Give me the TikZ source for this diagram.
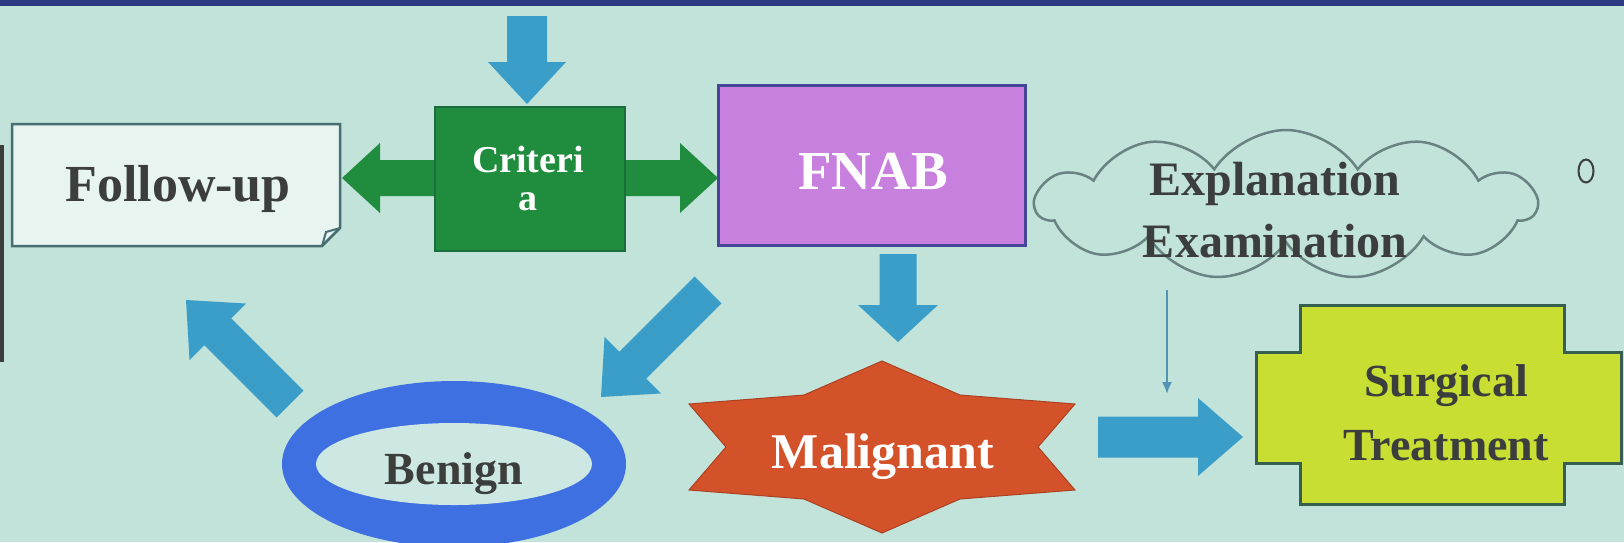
\documentclass[tikz,border=0pt]{standalone}
\usepackage{fontspec}
\setmainfont{Liberation Serif}
\usetikzlibrary{calc,shapes.symbols,shapes.geometric,arrows.meta}
\definecolor{bg}{RGB}{194,227,218}
\definecolor{topbar}{RGB}{45,60,130}
\definecolor{arrowblue}{RGB}{58,158,200}
\definecolor{critgreen}{RGB}{32,140,62}
\definecolor{critborder}{RGB}{25,110,60}
\definecolor{fnabfill}{RGB}{200,128,222}
\definecolor{fnabborder}{RGB}{70,70,150}
\definecolor{followfill}{RGB}{232,244,240}
\definecolor{followborder}{RGB}{70,110,115}
\definecolor{ringblue}{RGB}{62,112,226}
\definecolor{innerfill}{RGB}{205,232,226}
\definecolor{maligfill}{RGB}{212,82,42}
\definecolor{surgfill}{RGB}{200,222,50}
\definecolor{surgborder}{RGB}{55,95,80}
\definecolor{textdark}{RGB}{60,62,62}
\definecolor{cloudline}{RGB}{105,130,130}
\definecolor{thinblue}{RGB}{80,150,180}
\newcommand\blockarr[6]{%
  \coordinate (bh) at ($(#2)!#5!(#1)$);
  \fill[#6] ($(#1)!#3!90:(#2)$) -- ($(bh)!#3!-90:(#1)$) -- ($(bh)!#4!-90:(#1)$) -- (#2)
    -- ($(bh)!#4!90:(#1)$) -- ($(bh)!#3!90:(#1)$) -- ($(#1)!#3!-90:(#2)$) -- cycle;}
\newcommand\dblarr[6]{%
  \coordinate (bha) at ($(#1)!#5!(#2)$);
  \coordinate (bhb) at ($(#2)!#5!(#1)$);
  \fill[#6] (#1) -- ($(bha)!#4!90:(#2)$) -- ($(bha)!#3!90:(#2)$) -- ($(bhb)!#3!-90:(#1)$)
    -- ($(bhb)!#4!-90:(#1)$) -- (#2) -- ($(bhb)!#4!90:(#1)$) -- ($(bhb)!#3!90:(#1)$)
    -- ($(bha)!#3!-90:(#2)$) -- ($(bha)!#4!-90:(#2)$) -- cycle;}
\tikzset{
  darktxt/.style={text=textdark, font=\fontsize{#1}{#1}\selectfont\bfseries, inner sep=0pt, align=center},
  whitetxt/.style={text=white, font=\fontsize{#1}{#1}\selectfont\bfseries, inner sep=0pt, align=center},
  bluearrow/.style={arrowblue},
  greenarrow/.style={critgreen},
}
\begin{document}
\begin{tikzpicture}[x=1pt,y=-1pt]
\useasboundingbox (0,0) rectangle (1624,542);
\fill[bg] (0,0) rectangle (1624,542);
\fill[topbar] (0,0) rectangle (1624,6);
\fill[textdark] (0,145) rectangle (4,362);

% coordinates for arrow ends
\coordinate (topstart) at (527,16);
\coordinate (topend) at (527,104);
\coordinate (gl) at (342,178);
\coordinate (gr) at (718,178);
\coordinate (fdown1) at (898,254);
\coordinate (fdown2) at (898,342);
\coordinate (diag1) at (708,290);
\coordinate (diag2) at (601,397);
\coordinate (up1) at (290,404);
\coordinate (up2) at (186,300);
\coordinate (rt1) at (1098,437);
\coordinate (rt2) at (1243,437);
\coordinate (thin1) at (1167,290);
\coordinate (thin2) at (1167,394);

% green double arrow (behind criteria)
\dblarr{gl}{gr}{18pt}{35pt}{38pt}{greenarrow}

% Follow-up box with folded corner
\filldraw[fill=followfill, draw=followborder, line width=2.5pt]
  (12,124) -- (340,124) -- (340,228) -- (322,246) -- (12,246) -- cycle;
\draw[followborder, line width=2pt] (322,246) -- (326,232) -- (340,228);
\node[darktxt=52] (fu) at (178,189) {Follow-up};

% Criteria box
\filldraw[fill=critgreen, draw=critborder, line width=2pt] (435,107) rectangle (625,251);
\node[whitetxt=38] (cr) at (528,178) {Criteri\\[0pt]a};

% FNAB
\filldraw[fill=fnabfill, draw=fnabborder, line width=3pt] (718,85) rectangle (1025,245);
\node[whitetxt=55] (fnab) at (873,171) {FNAB};

% cloud
\node[cloud, cloud puffs=11, cloud puff arc=115, cloud ignores aspect, minimum width=500pt,
      minimum height=150pt, draw=cloudline, line width=2.5pt, fill=bg] (cl) at (1286,205) {};
\node[darktxt=48] (clt) at (1275,210) {Explanation\\[14pt]Examination};
\node[ellipse, draw=textdark, line width=2pt, minimum width=15pt, minimum height=23pt, inner sep=0pt] (dot) at (1586,171) {};

% blue arrows
\blockarr{topstart}{topend}{20pt}{39pt}{42pt}{bluearrow}
\blockarr{fdown1}{fdown2}{18.5pt}{40pt}{37pt}{bluearrow}
\blockarr{diag1}{diag2}{19pt}{40pt}{45pt}{bluearrow}
\blockarr{up1}{up2}{19pt}{40pt}{45pt}{bluearrow}
\blockarr{rt1}{rt2}{20.5pt}{39pt}{45pt}{bluearrow}
\draw[thinblue, line width=2pt, -{Latex[length=12pt,width=10pt]}] (thin1) -- (thin2);

% Benign ring
\fill[ringblue] (454,464) ellipse [x radius=172pt, y radius=83pt];
\fill[innerfill] (454,464) ellipse [x radius=138pt, y radius=41pt];
\node[darktxt=46] (ben) at (454,474) {Benign};

% Malignant star
\filldraw[fill=maligfill, draw=maligfill!80!black, line width=1pt]
  (1038,447) -- (1075,404) -- (960,395) -- (882,361) -- (804,395) -- (689,404)
  -- (726,447) -- (689,490) -- (804,499) -- (882,533) -- (960,499) -- (1075,490) -- cycle;
\node[whitetxt=50] (mal) at (883,457) {Malignant};

% Surgical treatment
\filldraw[fill=surgfill, draw=surgborder, line width=3pt]
  (1300,305) -- (1564,305) -- (1564,352) -- (1621,352) -- (1621,463) -- (1564,463)
  -- (1564,504) -- (1300,504) -- (1300,463) -- (1256,463) -- (1256,352) -- (1300,352) -- cycle;
\node[darktxt=46] (st) at (1446,413) {Surgical\\[18pt]Treatment};
\end{tikzpicture}
\end{document}
